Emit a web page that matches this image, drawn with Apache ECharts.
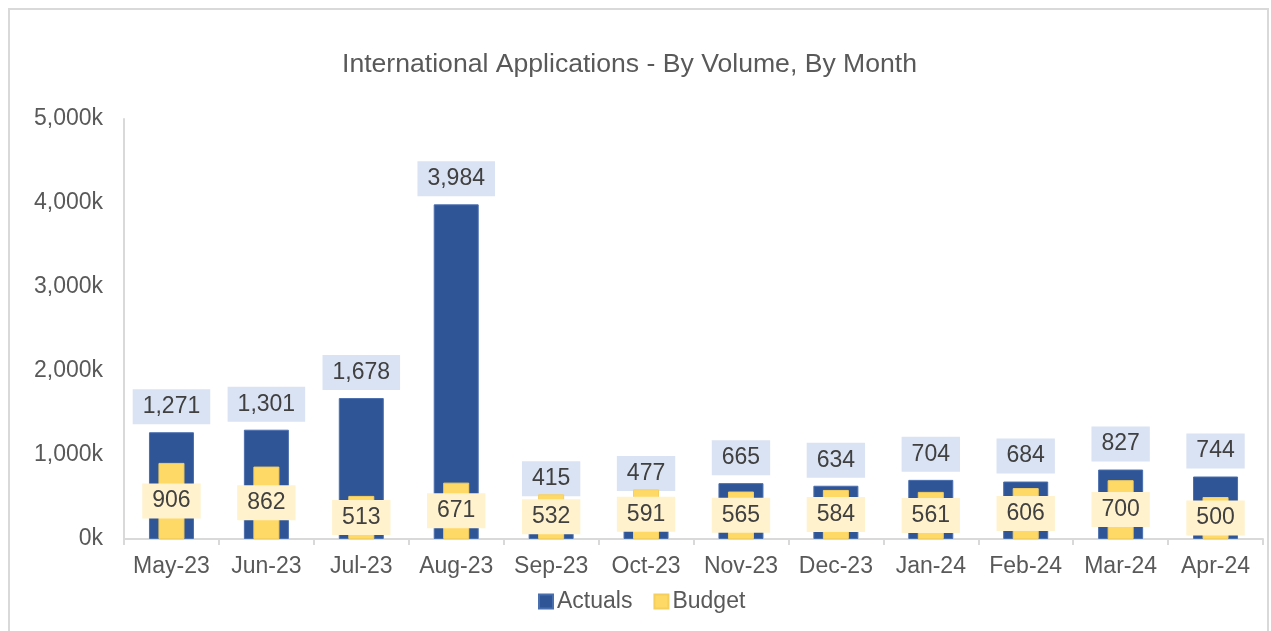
<!DOCTYPE html>
<html>
<head>
<meta charset="utf-8">
<script src="https://cdn.jsdelivr.net/npm/echarts@6/dist/echarts.min.js"></script>
<style>
    html, body { margin: 0; padding: 0; background: #fff; }
    #chart { width: 1271px; height: 631px; }
</style>
</head>
<body>
<div id="chart"></div>
<script>
var months = ['May-23', 'Jun-23', 'Jul-23', 'Aug-23', 'Sep-23', 'Oct-23',
              'Nov-23', 'Dec-23', 'Jan-24', 'Feb-24', 'Mar-24', 'Apr-24'];
var actuals = [1271, 1301, 1678, 3984, 415, 477, 665, 634, 704, 684, 827, 744];
var budget = [906, 862, 513, 671, 532, 591, 565, 584, 561, 606, 700, 500];

var font = 'Liberation Sans, Arial, sans-serif';

function fmt(v) {
    return Number(v).toLocaleString('en-US');
}

var myChart = echarts.init(document.getElementById('chart'), null, { renderer: 'canvas' });

var option = {
    animation: false,
    textStyle: { fontFamily: font },
    graphic: [{
        type: 'rect',
        shape: { x: 9, y: 9, width: 1259, height: 700 },
        style: { fill: 'none', stroke: '#d9d9d9', lineWidth: 2 },
        silent: true,
        z: -1
    }],
    title: {
        text: 'International Applications - By Volume, By Month',
        left: 337,
        top: 46,
        textStyle: {
            fontFamily: font,
            fontSize: 26.6,
            fontWeight: 'normal',
            color: '#595959'
        }
    },
    legend: {
        left: 533,
        top: 585,
        itemWidth: 14,
        itemHeight: 14,
        itemGap: 21,
        icon: 'rect',
        textStyle: { fontFamily: font, fontSize: 23, color: '#595959', padding: [0, 0, 0, -1] },
        data: ['Actuals', 'Budget']
    },
    grid: {
        left: 124,
        right: 8,
        top: 119,
        bottom: 92
    },
    xAxis: [{
        type: 'category',
        data: months,
        axisLine: { lineStyle: { color: '#d9d9d9', width: 2 } },
        axisTick: { show: true, length: 6, lineStyle: { color: '#d9d9d9', width: 2 } },
        axisLabel: { fontFamily: font, fontSize: 23, color: '#595959', margin: 16, interval: 0 }
    }, {
        type: 'category',
        data: months,
        show: false
    }],
    yAxis: {
        type: 'value',
        min: 0,
        max: 5000,
        interval: 1000,
        splitLine: { show: false },
        axisLine: { show: true, lineStyle: { color: '#d9d9d9', width: 2 } },
        axisTick: { show: false },
        axisLabel: {
            fontFamily: font,
            fontSize: 23,
            color: '#595959',
            margin: 21,
            padding: [6, 0, 0, 0],
            formatter: function (v) { return fmt(v) + 'k'; }
        }
    },
    series: [{
        name: 'Actuals',
        type: 'bar',
        xAxisIndex: 0,
        data: actuals,
        barWidth: 45,
        itemStyle: { color: '#2f5597', borderColor: '#4a6fae', borderWidth: 1 },
        label: {
            show: true,
            position: 'top',
            distance: 8,
            fontFamily: font,
            fontSize: 23,
            color: '#404040',
            backgroundColor: '#dae3f3',
            padding: [6, 10, 6, 10],
            formatter: function (p) { return fmt(p.value); }
        },
        z: 2
    }, {
        name: 'Budget',
        type: 'bar',
        xAxisIndex: 1,
        data: budget,
        barWidth: 26,
        itemStyle: { color: '#ffd966', borderColor: '#f5cf5e', borderWidth: 1 },
        label: {
            show: true,
            position: 'inside',
            fontFamily: font,
            fontSize: 23,
            color: '#404040',
            backgroundColor: '#fff2cc',
            padding: [6, 10, 6, 10],
            formatter: function (p) { return fmt(p.value); }
        },
        z: 3
    }]
};

myChart.setOption(option);
</script>
</body>
</html>
